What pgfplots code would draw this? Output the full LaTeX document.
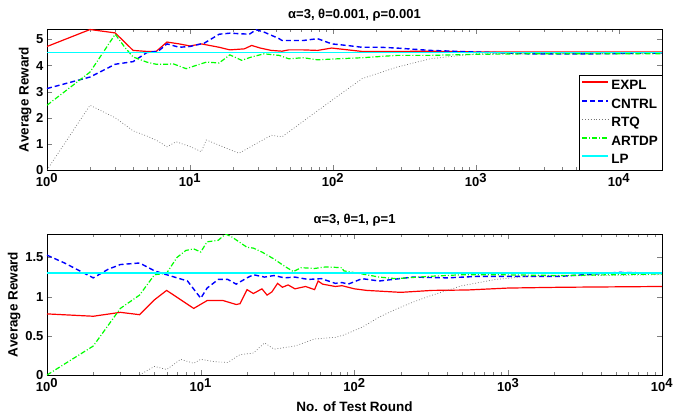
\documentclass[border=0pt]{standalone}
\usepackage{fontspec}
\setmainfont{Liberation Sans}
\usepackage{pgfplots}
\pgfplotsset{compat=1.18}
\definecolor{mgreen}{rgb}{0,1,0}
\definecolor{mcyan}{rgb}{0,1,1}
\definecolor{mblue}{rgb}{0,0,1}
\definecolor{mred}{rgb}{1,0,0}
\definecolor{mgray}{rgb}{0.45,0.45,0.45}
\pgfplotsset{
  every axis/.append style={
    width=615pt, height=141pt, scale only axis,
    xmode=log, xmin=1, tick align=inside,
    xtick={1,10,100,1000,10000},
    xticklabels={\textbf{10}$^{\textbf{0}}$,\textbf{10}$^{\textbf{1}}$,\textbf{10}$^{\textbf{2}}$,\textbf{10}$^{\textbf{3}}$,\textbf{10}$^{\textbf{4}}$},
    tick label style={font=\fontsize{13}{15}\selectfont\bfseries},
    label style={font=\fontsize{13.5}{16}\selectfont\bfseries},
    title style={font=\fontsize{13}{15}\selectfont\bfseries, yshift=-2pt},
    /pgf/number format/assume math mode=true,
    axis line style={line width=0.8pt},
    major tick length=5pt, minor tick length=3pt,
  },
}
\begin{document}
\begin{tikzpicture}
\begin{axis}[at={(0,0)}, anchor=south west, xmax=20000, ymin=0, ymax=5.4,
  ytick={0,1,2,3,4,5},
  ylabel={Average Reward},
  ylabel style={yshift=-2pt},
  title={α=3, θ=0.001, ρ=0.001},
  legend style={at={(1,0)}, anchor=south east, font=\fontsize{13.5}{17}\selectfont\bfseries,
    draw=black, inner xsep=2pt, inner ysep=3pt, row sep=3.5pt},
  legend cell align=left,
  legend image code/.code={\draw[#1] (0pt,3.6pt) -- (26pt,3.6pt);}]
\addplot[mred, line width=1.2pt, solid, legend image post style={line width=1.8pt}] coordinates {(1,4.73) (2,5.38) (3,5.25) (4,4.58) (5,4.54) (5.8,4.54) (6.9,4.9) (8.4,4.83) (10,4.75)
  (12,4.83) (16,4.7) (19,4.6) (24,4.64) (27,4.77) (31,4.67) (37,4.58) (44,4.55) (49,4.6) (62,4.6) (78,4.58)
  (98,4.67) (160,4.54) (280,4.54) (480,4.55) (1000,4.52) (3000,4.52) (20000,4.52)};
\addlegendentry{EXPL}
\addplot[mblue, line width=1.4pt, dash pattern=on 5pt off 3pt, legend image post style={line width=1.8pt}] coordinates {(1,3.12) (2,3.56) (3,4.05) (4,4.15) (5,4.5) (6,4.55) (6.9,4.83) (8.4,4.7) (10,4.73)
  (12.6,4.86) (16,5.2) (19,5.24) (26,5.2) (29,5.37) (33,5.28) (42,5.03) (44,4.96) (62,4.96) (78,5.03) (98,4.83)
  (125,4.77) (160,4.7) (215,4.7) (280,4.67) (480,4.58) (1000,4.52) (2300,4.45) (7000,4.45) (20000,4.48)};
\addlegendentry{CNTRL}
\addplot[mgray, line width=0.7pt, dash pattern=on 0.8pt off 2pt, legend image post style={line width=0.9pt}] coordinates {(1,0) (2,2.48) (3,2.0) (4,1.5) (5,1.3) (6,1.1) (6.9,0.89) (8,1.08) (10,0.9) (12,0.7)
  (13,1.15) (22,0.64) (37,1.33) (44,1.27) (100,2.7) (160,3.5) (280,3.94) (480,4.26) (1000,4.45) (3000,4.47)
  (20000,4.48)};
\addlegendentry{RTQ}
\addplot[mgreen, line width=1.2pt, dash pattern=on 5pt off 2pt on 1pt off 2pt, legend image post style={line width=2pt}] coordinates {(1,2.48) (2,3.75) (3,5.2) (3.5,4.7) (4,4.33) (5,4.13) (5.8,4.05) (6.9,4.05) (7.6,4.07)
  (9.4,3.88) (12,4.07) (13,4.13) (16,4.1) (19,4.41) (23,4.2) (27,4.33) (33,4.45) (42,4.39) (49,4.26) (62,4.3)
  (78,4.22) (100,4.25) (160,4.3) (280,4.39) (480,4.39) (1000,4.43) (2300,4.45) (20000,4.45)};
\addlegendentry{ARTDP}
\addplot[mcyan, line width=1.4pt, solid, legend image post style={line width=1.8pt}] coordinates {(1,4.5) (20000,4.5)};
\addlegendentry{LP}
\end{axis}
\begin{axis}[at={(0,-205pt)}, anchor=south west, xmax=10000, ymin=0, ymax=1.8,
  ytick={0,0.5,1,1.5},
  yticklabels={\textbf{0},\textbf{0.5},\textbf{1},\textbf{1.5}},
  ylabel={Average Reward},
  ylabel style={yshift=-2pt},
  xlabel={No. of Test Round},
  xlabel style={yshift=-3pt},
  title={α=3, θ=1, ρ=1}]
\addplot[mred, line width=1.2pt, solid] coordinates {(1,0.78) (2,0.75) (3,0.8) (4,0.77) (5,0.96) (6,1.08) (9,0.85) (11,0.95) (14,0.95)
  (17,0.9) (18,0.91) (20,1.09) (22,1.04) (25,1.1) (27,1.02) (29,1.06) (31.6,1.17) (34,1.12) (37,1.15) (41,1.1)
  (48,1.13) (55,1.09) (58,1.2) (62,1.16) (75,1.13) (83,1.14) (100,1.1) (120,1.08) (200,1.055) (320,1.08)
  (540,1.085) (1000,1.11) (2200,1.12) (10000,1.13)};
\addplot[mblue, line width=1.4pt, dash pattern=on 5pt off 3pt] coordinates {(1,1.53) (1.3,1.43) (2,1.24) (2.5,1.35) (3,1.41) (4,1.43) (5,1.33) (6,1.28) (8.2,1.2)
  (10,0.98) (11,1.11) (13,1.22) (15,1.22) (17,1.16) (20,1.24) (22,1.28) (26,1.25) (30,1.27) (35,1.24) (41,1.25)
  (50,1.22) (61,1.23) (75,1.17) (83,1.18) (91,1.16) (112,1.23) (145,1.2) (240,1.25) (400,1.24) (650,1.26)
  (1070,1.26) (2200,1.26) (5200,1.31) (10000,1.3)};
\addplot[mgray, line width=0.7pt, dash pattern=on 0.8pt off 2pt] coordinates {(4,0) (5,0.11) (6,0.07) (7.4,0.2) (9,0.15) (10,0.2) (12.2,0.17) (15,0.16) (18,0.26)
  (22,0.28) (26,0.41) (30,0.33) (41,0.37) (55,0.46) (75,0.48) (85,0.51) (112,0.61) (145,0.74) (186,0.84)
  (240,0.93) (310,1.01) (500,1.14) (830,1.22) (1350,1.26) (3700,1.27) (10000,1.28)};
\addplot[mgreen, line width=1.2pt, dash pattern=on 5pt off 2pt on 1pt off 2pt] coordinates {(1,0) (2,0.37) (3,0.85) (4,1.02) (5,1.28) (6,1.3) (7,1.5) (8,1.59) (9,1.61) (10,1.57)
  (11,1.7) (13,1.72) (14.5,1.8) (16,1.76) (20,1.63) (22,1.62) (25,1.57) (30,1.48) (35,1.39) (40,1.32) (45,1.37)
  (55,1.36) (65,1.38) (83,1.37) (85,1.33) (112,1.29) (145,1.25) (186,1.23) (310,1.26) (500,1.28) (830,1.28)
  (2200,1.27) (10000,1.29)};
\addplot[mcyan, line width=1.4pt, solid] coordinates {(1,1.3) (10000,1.3)};
\end{axis}
\pgfresetboundingbox
\path[use as bounding box] (-47pt,170pt) rectangle (627pt,-247pt);
\end{tikzpicture}
\end{document}
